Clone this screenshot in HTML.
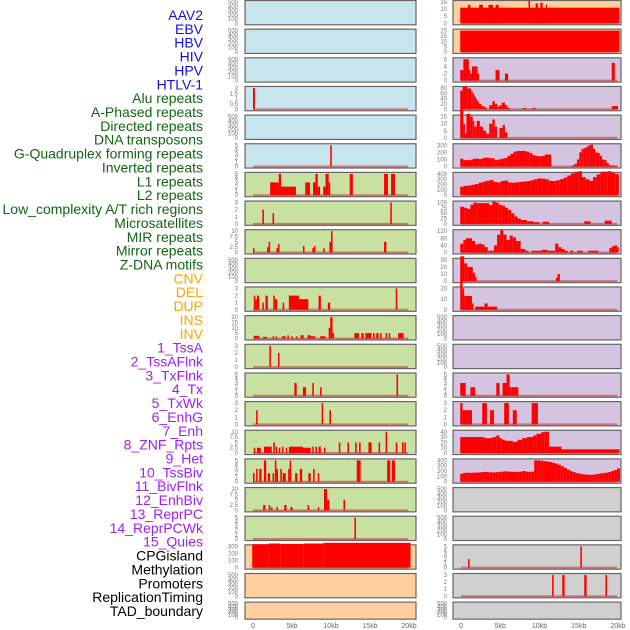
<!DOCTYPE html>
<html><head><meta charset="utf-8"><style>
body{margin:0;background:#fff;width:630px;height:630px;overflow:hidden;font-family:"Liberation Sans",sans-serif}
svg{display:block}
</style></head><body>
<svg id="chart" width="630" height="630" viewBox="0 0 630 630" xmlns="http://www.w3.org/2000/svg"></svg>
<script>
// ---- labels ----
const labelNames = ["AAV2","EBV","HBV","HIV","HPV","HTLV-1","Alu repeats","A-Phased repeats","Directed repeats","DNA transposons","G-Quadruplex forming repeats","Inverted repeats","L1 repeats","L2 repeats","Low_complexity A/T rich regions","Microsatellites","MIR repeats","Mirror repeats","Z-DNA motifs","CNV","DEL","DUP","INS","INV","1_TssA","2_TssAFlnk","3_TxFlnk","4_Tx","5_TxWk","6_EnhG","7_Enh","8_ZNF_Rpts","9_Het","10_TssBiv","11_BivFlnk","12_EnhBiv","13_ReprPC","14_ReprPCWk","15_Quies","CPGisland","Methylation","Promoters","ReplicationTiming","TAD_boundary"];
const labelGroups = [6,13,5,15,5];
const groupColors = ["#1010e0","#116611","#ffa500","#a020f0","#000000"];
const xTickKb = [0,5,10,15,20];
const xTickLabels = ["0","5kb","10kb","15kb","20kb"];

// ---- tick sets ----
const t500=[0,100,200,300,400,500], t5=[0,1,2,3,4,5], t3=[0,1,2,3], t10=[0,2.5,5,7.5,10];
// ---- left column segments [startKb,endKb,value] ----
const segsL3=[[0,0.25,2]];
const segsL5=[[9.9,10.1,5]];
const segsL6=[[2.2,3.3,3],[3.3,3.6,5],[3.6,5.5,2],[6.7,7.3,3],[7.7,8.0,3],[8.0,8.3,5],[8.3,8.6,2],[9.0,9.3,2],[9.3,9.7,5],[9.7,9.9,3],[12.4,12.8,5],[16.8,17.3,5],[17.7,18.2,5]];
const segsL7=[[1.2,1.4,2],[2.5,2.7,1.5],[17.6,17.8,3]];
const segsL8=[[0,0.2,2],[1.8,2.0,2.5],[2.0,2.2,5],[3.0,3.2,2],[3.2,3.4,4],[6.4,6.6,3],[7.6,7.8,2],[7.8,8.0,3],[9.0,9.2,2],[9.8,10.0,5],[10.0,10.2,10],[16.8,17.1,5]];
const segsL10=[[0.1,0.3,2],[0.3,0.5,1.5],[0.5,0.8,2],[1.2,1.4,1],[1.6,1.9,2],[2.6,2.8,2],[2.8,3.1,1.5],[3.8,4.0,1],[4.6,5.9,2],[5.9,7.1,1.5],[8.4,8.7,2],[9.6,9.9,1],[18.3,18.5,3]];
const segsL11=[[0.1,0.8,2.5],[1.3,1.8,1.5],[2.5,2.7,2],[2.9,3.1,2],[3.7,4.2,2],[4.4,4.6,3],[4.9,5.1,2],[5.5,5.7,2],[6.1,6.5,3],[7.0,7.4,3],[7.4,8.0,2],[8.6,9.3,2],[9.7,9.9,10],[9.9,10.2,20],[10.2,10.4,5],[13.0,13.6,5],[13.9,14.2,5],[14.4,15.2,5],[15.4,15.6,5],[15.8,16.1,5],[16.3,16.5,5],[17.0,17.2,5],[17.4,17.6,5],[18.6,19.3,5]];
const segsL12=[[2.1,2.3,3],[3.2,3.4,2]];
const segsL13=[[5.3,5.6,3],[6.4,6.8,2],[7.6,7.8,3],[8.6,8.8,2],[18.4,18.6,5]];
const segsL14=[[0.4,0.6,2],[8.8,9.0,3],[9.8,10.0,2]];
const segsL15=[[0.1,0.3,2.5],[0.5,1.0,2.5],[1.4,2.4,3],[2.6,2.8,5],[2.9,3.1,3],[3.3,3.5,2.5],[3.7,3.9,3],[4.2,4.4,2.5],[4.6,6.4,3],[6.4,7.4,2.5],[7.6,7.8,3],[8.0,8.2,3],[8.4,8.7,3],[9.1,9.3,2.5],[11.0,11.2,5],[12.1,12.3,5],[13.1,13.3,5],[13.6,13.8,5],[14.8,15.2,5],[16.1,16.3,5],[17.0,17.2,10],[18.3,18.5,5],[19.1,19.3,5],[19.4,19.6,5]];
const segsL16=[[0,0.2,2],[0.4,0.6,3],[0.8,1.1,3],[1.4,1.7,5],[1.9,2.2,2],[2.5,2.7,2],[2.8,3.0,5],[3.0,3.2,3],[3.5,3.7,3],[3.8,4.2,2],[4.5,4.7,3],[4.7,4.9,5],[5.4,5.7,2],[6.0,6.3,3],[7.1,7.4,2],[7.7,7.9,3],[8.3,8.5,2],[13.3,13.8,5],[17.2,17.6,5],[17.8,18.2,5]];
const segsL17=[[1.3,1.6,2.5],[2.0,2.2,2.5],[2.3,2.5,1.5],[3.0,3.2,1.5],[4.0,4.3,2.5],[4.8,5.1,1.5],[7.0,7.2,2.5],[8.3,8.5,1.5],[9.1,9.5,10],[9.5,9.8,5],[11.6,11.8,5]];
const segsL18=[[13.0,13.2,5]];
const segsL19=[[-0.1,2.0,330],[2.0,3.5,340],[3.5,6.5,335],[6.5,9.0,340],[9.0,20.2,350]];
// ---- right column ----
const segsR0=[[-0.1,20.2,11],[0.9,1.2,13],[2.3,2.8,13],[3.5,4.1,13],[4.4,4.8,13],[8.6,8.8,16],[9.5,9.8,14],[10.1,10.4,14.5],[10.8,11.0,13]];
const segsR1=[[-0.1,20.2,20]];
const segsR2=[[-0.1,0.3,3],[0.3,1.0,6],[1.0,1.2,3],[1.2,1.4,2],[1.4,2.1,4],[2.1,2.3,2],[4.4,4.9,3],[5.6,6.0,2],[19.2,19.6,5]];
const segsR3=[[-0.1,0.2,70],[0.2,0.8,85],[0.8,1.3,78],[1.3,1.5,68],[1.5,1.7,58],[1.7,1.9,48],[1.9,2.1,38],[2.1,2.3,28],[2.3,2.6,20],[2.6,3.0,12],[3.0,3.3,6],[3.6,4.0,15],[4.0,4.3,30],[4.3,4.6,20],[4.6,4.9,10],[4.9,5.2,15],[5.2,5.6,25],[5.6,5.9,15],[5.9,6.2,5],[7.9,8.3,5],[9.1,9.5,5],[19.2,20.0,12]];
const segsR4=[[-0.1,0.3,20],[0.3,0.5,10],[0.5,0.7,3],[0.7,1.2,17],[1.2,1.5,15],[1.5,1.7,12],[1.7,2.0,8],[2.0,2.4,12],[2.4,2.8,8],[2.8,3.2,5],[3.2,3.6,3],[3.6,4.0,10],[4.0,4.3,13],[4.3,4.6,8],[4.9,5.3,7],[5.3,5.6,9],[5.6,5.9,4]];
const binsR5a=[110,90,90,95,110,110,105,120,125,120,115,90,100,110,120,150,180,210,220,220,220,210,190,160,150,145,150,170,170];
const binsR5b=[20,40,100,200,250,260,280,300,310,250,200,190,150,100,90,50,20,15,15,10];
const binsR6=[160,175,180,195,210,235,255,270,285,250,240,265,275,240,235,245,250,255,265,280,300,315,310,300,270,265,280,300,330,370,410,440,450,340,300,270,340,390,440,445,450,420,400];
const segsR7=[[-0.1,0.4,80],[0.4,0.8,75],[0.8,1.2,70],[1.2,1.6,90],[1.6,2.0,100],[2.0,3.6,97],[3.6,4.0,88],[4.0,4.4,105],[4.4,4.8,100],[4.8,5.2,90],[5.2,5.6,85],[5.6,6.0,75],[6.0,6.4,65],[6.4,6.8,50],[6.8,7.2,35],[7.2,7.6,25],[7.6,8.4,18],[8.4,9.2,12],[9.2,10.0,8],[10.4,11.2,10],[15.7,16.5,12],[18.3,19.2,15]];
const segsR8=[[-0.1,0.3,50],[0.3,0.6,70],[0.6,1.4,80],[1.4,1.8,65],[1.8,2.2,45],[2.2,2.6,50],[2.6,3.0,45],[3.0,3.4,30],[3.4,4.2,10],[4.2,4.6,40],[4.6,5.0,100],[5.0,5.4,125],[5.4,5.8,100],[5.8,6.2,70],[6.2,6.6,95],[6.6,7.0,85],[7.0,7.6,65],[7.6,8.2,20],[8.2,8.6,10],[9.0,10.3,10],[10.3,11.0,15],[11.0,12.0,10],[12.0,12.4,50],[12.4,12.8,30],[12.8,13.2,20],[13.2,13.6,10],[13.9,14.3,10],[14.8,15.5,10],[16.2,17.5,10],[18.9,19.2,25],[19.2,19.5,35],[19.5,19.9,40],[19.9,20.1,30]];
const segsR9=[[-0.1,0.4,35],[0.4,0.8,25],[0.8,1.5,20],[1.5,1.8,12],[1.8,2.0,6],[12.1,12.3,5],[12.3,12.6,10]];
const segsR10=[[-0.1,0.2,30],[0.2,0.4,20],[0.4,1.4,13],[1.4,1.6,6],[1.8,3.0,3],[3.0,3.4,6],[3.4,4.6,3]];
const segsR13=[[-0.1,0.6,3],[1.2,1.8,2],[4.5,4.9,3],[5.3,5.8,3],[5.8,6.2,5],[6.2,6.4,2],[6.4,7.3,2]];
const segsR14=[[-0.1,0.2,3],[0.2,1.4,2],[2.7,3.3,3],[3.7,4.2,2],[5.5,6.1,3],[6.6,7.1,2],[9.0,9.8,3]];
const segsR15=[[-0.1,3.0,30],[3.0,4.0,28],[4.0,4.5,30],[4.5,4.9,33],[4.9,5.2,28],[5.2,5.6,25],[5.6,6.6,23],[6.6,7.2,21],[7.2,7.8,25],[7.8,8.4,28],[8.4,9.2,30],[9.2,9.6,33],[9.6,10.2,36],[10.2,10.6,39],[10.6,11.2,40],[11.2,12.8,12],[12.8,20.2,7]];
const binsR16=[150,165,170,165,170,170,175,180,185,180,175,175,180,185,190,195,190,185,185,185,190,200,190,185,190,400,400,395,385,380,370,355,340,320,290,260,230,200,180,160,150,140,135,130,130,135,145,155,160,170,180,200,220,250];
const segsR19=[[0.9,1.1,2],[15.2,15.4,5]];
const segsR20=[[11.6,11.8,3],[12.9,13.2,3],[15.7,16.0,3],[18.4,18.6,3]];

function binsToSegs(start,step,vals){return vals.map((v,i)=>[start+i*step,start+(i+1)*step,v]);}

const BLUE="#c8e4ec",GREEN="#c8e0a0",PEACH="#ffd09e",LAV="#d4c4e0",GREY="#d0d0d0";
const leftPanels=[
 [BLUE,t500,null],[BLUE,t500,null],[BLUE,t500,null],[BLUE,[0,0.5,1,1.5,2],segsL3],[BLUE,t500,null],
 [BLUE,t5,segsL5],[GREEN,t5,segsL6],[GREEN,t3,segsL7],[GREEN,t10,segsL8],[GREEN,t500,null],
 [GREEN,t3,segsL10],[GREEN,[0,5,10,15,20],segsL11],[GREEN,t3,segsL12],[GREEN,t5,segsL13],[GREEN,t3,segsL14],
 [GREEN,t10,segsL15],[GREEN,t5,segsL16],[GREEN,t10,segsL17],[GREEN,t5,segsL18],[PEACH,[0,100,200,300],segsL19],
 [PEACH,t500,null],[PEACH,t500,null]];
const rightPanels=[
 [PEACH,[0,5,10,15],segsR0],[PEACH,[0,5,10,15,20],segsR1],[LAV,[0,2,4,6],segsR2],[LAV,[0,20,40,60,80],segsR3],[LAV,[0,5,10,15],segsR4],
 [LAV,[0,100,200,300],binsToSegs(-0.1,0.4,binsR5a).concat(binsToSegs(14.2,0.29,binsR5b))],
 [LAV,[0,100,200,300,400],binsToSegs(-0.1,0.47,binsR6)],[LAV,[0,25,50,75,100],segsR7],[LAV,[0,40,80,120],segsR8],[LAV,[0,10,20,30],segsR9],
 [LAV,[0,10,20],segsR10],[LAV,t500,null],[LAV,t500,null],[LAV,t5,segsR13],[LAV,t3,segsR14],
 [LAV,[0,10,20,30,40],segsR15],[LAV,[0,100,200,300,400],binsToSegs(-0.1,0.377,binsR16)],[GREY,t500,null],[GREY,t500,null],[GREY,t5,segsR19],
 [GREY,t3,segsR20],[GREY,t500,null]];

const svg=document.getElementById('chart');
const NS="http://www.w3.org/2000/svg";
function mk(tag,attrs,parent){const e=document.createElementNS(NS,tag);for(const k in attrs)e.setAttribute(k,attrs[k]);(parent||svg).appendChild(e);return e;}

// labels
let li=0;
labelGroups.forEach((n,g)=>{for(let i=0;i<n;i++){const t=mk('text',{x:203,y:20+li*13.86,'text-anchor':'end','font-size':'14',fill:groupColors[g]});


t.textContent=labelNames[li];li++;}});

const cols=[{x0:245,x1:416,k0:253,kpx:7.8,tx:238,list:leftPanels,name:'left'},{x0:453,x1:621,k0:461,kpx:7.85,tx:447,list:rightPanels,name:'right'}];
cols.forEach(c=>{
 const xs=kb=>c.k0+kb*c.kpx;
 c.list.forEach((p,r)=>{
  const top=0.5+r*28.65, h=(r===21?17:24.3), bot=top+h;
  const g=mk('g',{});
  
  
  mk('rect',{x:c.x0,y:top,width:c.x1-c.x0,height:h,fill:p[0],stroke:'#666','stroke-width':1.2},g);
  const ticks=p[1],ymax=ticks[ticks.length-1];
  const yb=bot-1.5, ytop=top+1.5;
  const ys=v=>yb-(v/ymax)*(yb-ytop);
  ticks.forEach(t=>{const tt=mk('text',{x:c.tx,y:ys(t)+2,'text-anchor':'end','font-size':'6',fill:'#777'},g);
   
   
   tt.textContent=String(t);});
  if(p[2]){
   mk('line',{x1:xs(0),x2:xs(19.9),y1:yb,y2:yb,stroke:'#c04040','stroke-width':2,opacity:0.6},g);
   p[2].forEach(s=>{const b=mk('rect',{x:xs(s[0]),y:ys(s[2]),width:Math.max(1.5,xs(s[1])-xs(s[0])),height:yb-ys(s[2]),fill:'#ff0000'},g);
    
    });
  }
 });
 xTickKb.forEach((k,i)=>{const t=mk('text',{x:xs(k),y:628,'text-anchor':'middle','font-size':'7',fill:'#666'});
  
  
  t.textContent=xTickLabels[i];});
});
</script>
</body></html>
